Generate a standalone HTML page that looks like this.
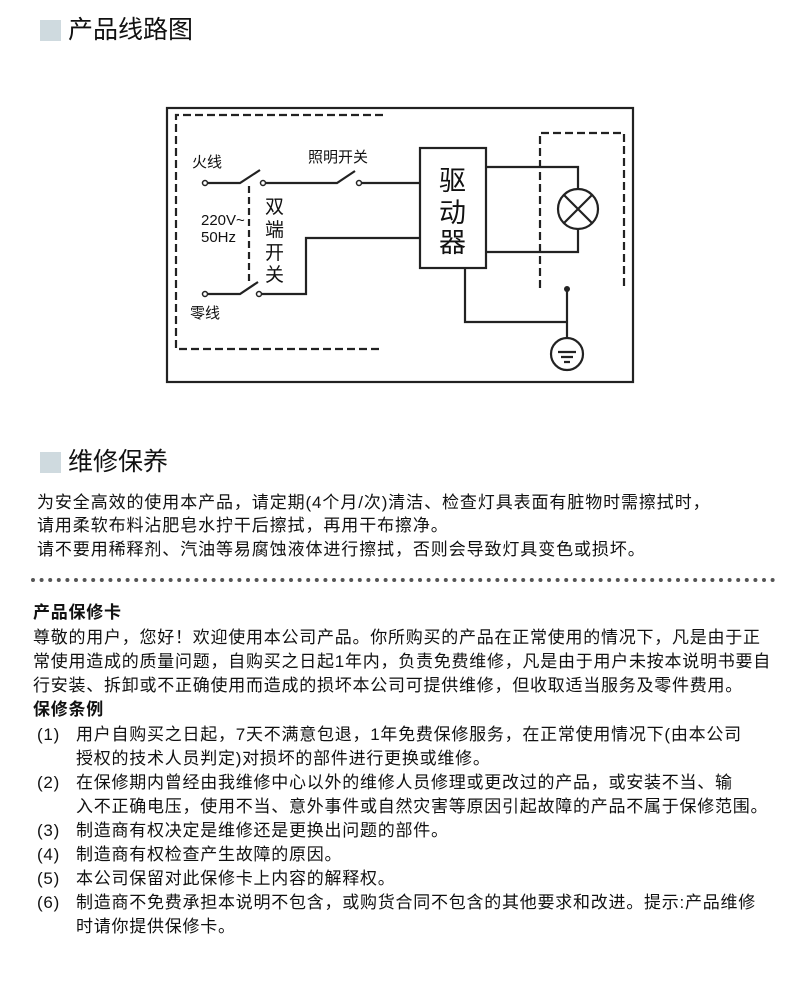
<!DOCTYPE html>
<html><head><meta charset="utf-8"><style>
body{margin:0;width:790px;height:987px;background:#fff;position:relative;overflow:hidden;font-family:"Liberation Sans","Noto Sans CJK SC",sans-serif;color:#111}
.t{position:absolute;white-space:nowrap;line-height:20px}
.h{position:absolute;font-size:25px;line-height:30px;white-space:nowrap}
.sq{position:absolute;width:21px;height:21px;background:#cfdadf}
.p{font-size:17px;letter-spacing:0.9px}
.w{font-size:17px;letter-spacing:0.75px}
.b{font-weight:bold}
</style></head><body>
<div class="sq" style="left:40px;top:20px"></div>
<div class="h" style="left:68px;top:15px">产品线路图</div>

<svg style="position:absolute;left:0;top:0" width="790" height="400" font-family="Liberation Sans, Noto Sans CJK SC, sans-serif">
<g fill="none" stroke="#222" stroke-width="2.2">
<rect x="167" y="108" width="466" height="274"/>
<path d="M383 115 H176 V349 H383" stroke-dasharray="8,4"/>
<path d="M540 288 V133 H624 V288" stroke-dasharray="8,4"/>
<path d="M249 186 V284" stroke-dasharray="7,4"/>
<path d="M207 183 H240 L260 170"/>
<path d="M265 183 H337 L355 171"/>
<path d="M361 183 H420"/>
<rect x="420" y="148" width="66" height="120"/>
<path d="M486 167 H578 V189"/>
<path d="M486 252 H578 V229"/>
<circle cx="578" cy="209" r="20"/>
<path d="M564 195 L592 223 M592 195 L564 223"/>
<path d="M465 268 V322 H567"/>
<path d="M567 289 V338"/>
<circle cx="567" cy="354" r="16"/>
<path d="M558 352 H576 M561 357 H573 M564 362 H570"/>
<path d="M207 294 H240 L258 282"/>
<path d="M261 294 H306 V238 H420"/>
</g>
<g fill="#fff" stroke="#222" stroke-width="1.5">
<circle cx="205" cy="183" r="2.5"/><circle cx="263" cy="183" r="2.5"/><circle cx="359" cy="183" r="2.5"/>
<circle cx="205" cy="294" r="2.5"/><circle cx="259" cy="294" r="2.5"/>
</g>
<circle cx="567" cy="289" r="3" fill="#222"/>
<g fill="#111" font-size="15">
<text x="192" y="167">火线</text>
<text x="308" y="162">照明开关</text>
<text x="190" y="318">零线</text>
<text x="201" y="225">220V~</text>
<text x="201" y="242">50Hz</text>
</g>
<g fill="#111" font-size="19">
<text x="265" y="213">双</text><text x="265" y="236">端</text><text x="265" y="259">开</text><text x="265" y="281">关</text>
</g>
<g fill="#111" font-size="27">
<text x="439" y="190">驱</text><text x="439" y="222">动</text><text x="439" y="252">器</text>
</g>
</svg>

<div class="sq" style="left:40px;top:452px"></div>
<div class="h" style="left:68px;top:447px">维修保养</div>
<div class="t p" style="left:37px;top:493px">为安全高效的使用本产品，请定期(4个月/次)清洁、检查灯具表面有脏物时需擦拭时，</div>
<div class="t p" style="left:37px;top:516px">请用柔软布料沾肥皂水拧干后擦拭，再用干布擦净。</div>
<div class="t p" style="left:37px;top:540px">请不要用稀释剂、汽油等易腐蚀液体进行擦拭，否则会导致灯具变色或损坏。</div>
<svg style="position:absolute;left:0;top:574px" width="790" height="12"><line x1="33" y1="6" x2="780" y2="6" stroke="#555" stroke-width="4" stroke-linecap="round" stroke-dasharray="0,8.6"/></svg>

<div class="t w b" style="left:33px;top:603px">产品保修卡</div>
<div class="t w" style="left:33px;top:628px">尊敬的用户，您好！欢迎使用本公司产品。你所购买的产品在正常使用的情况下，凡是由于正</div>
<div class="t w" style="left:33px;top:652px">常使用造成的质量问题，自购买之日起1年内，负责免费维修，凡是由于用户未按本说明书要自</div>
<div class="t w" style="left:33px;top:676px">行安装、拆卸或不正确使用而造成的损坏本公司可提供维修，但收取适当服务及零件费用。</div>
<div class="t w b" style="left:33px;top:700px">保修条例</div>
<div class="t w" style="left:37px;top:725px">(1)</div><div class="t w" style="left:76px;top:725px">用户自购买之日起，7天不满意包退，1年免费保修服务，在正常使用情况下(由本公司</div>
<div class="t w" style="left:76px;top:749px">授权的技术人员判定)对损坏的部件进行更换或维修。</div>
<div class="t w" style="left:37px;top:773px">(2)</div><div class="t w" style="left:76px;top:773px">在保修期内曾经由我维修中心以外的维修人员修理或更改过的产品，或安装不当、输</div>
<div class="t w" style="left:76px;top:797px">入不正确电压，使用不当、意外事件或自然灾害等原因引起故障的产品不属于保修范围。</div>
<div class="t w" style="left:37px;top:821px">(3)</div><div class="t w" style="left:76px;top:821px">制造商有权决定是维修还是更换出问题的部件。</div>
<div class="t w" style="left:37px;top:845px">(4)</div><div class="t w" style="left:76px;top:845px">制造商有权检查产生故障的原因。</div>
<div class="t w" style="left:37px;top:869px">(5)</div><div class="t w" style="left:76px;top:869px">本公司保留对此保修卡上内容的解释权。</div>
<div class="t w" style="left:37px;top:893px">(6)</div><div class="t w" style="left:76px;top:893px">制造商不免费承担本说明不包含，或购货合同不包含的其他要求和改进。提示:产品维修</div>
<div class="t w" style="left:76px;top:917px">时请你提供保修卡。</div>
</body></html>
